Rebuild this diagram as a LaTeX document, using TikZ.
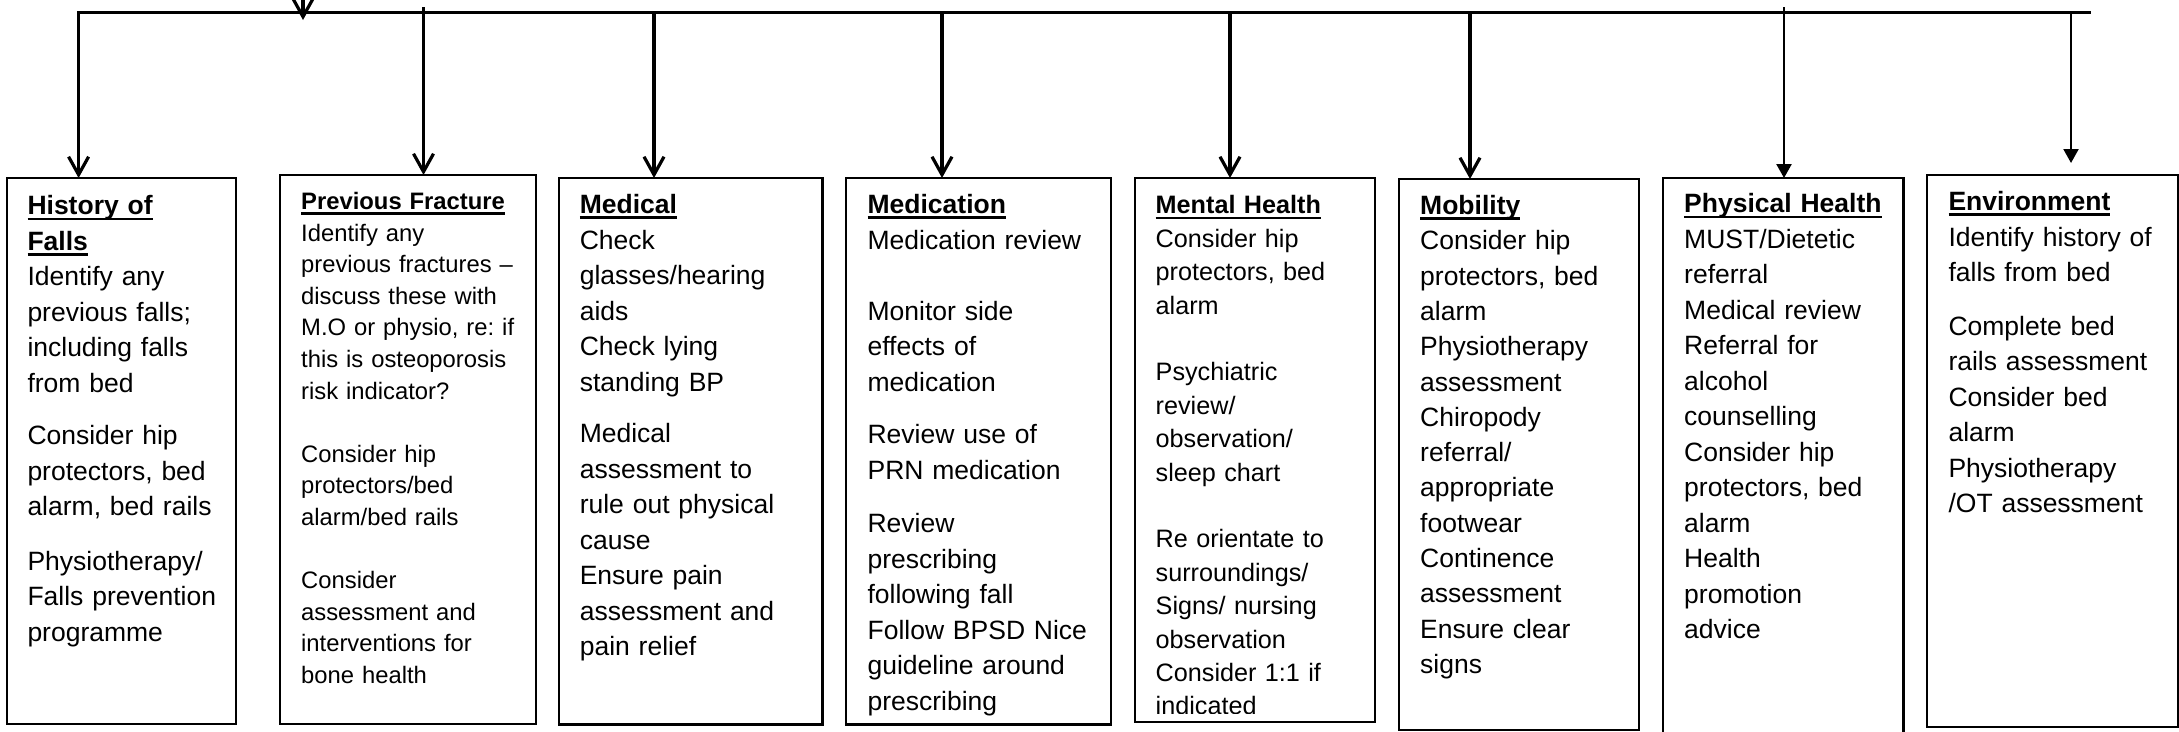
\documentclass[tikz,border=0pt]{standalone}
\usepackage{fontspec}
\setmainfont{Liberation Sans}
\usetikzlibrary{arrows.meta}
\frenchspacing
\newcommand\hdul[1]{\leavevmode\setbox0\hbox{\bfseries #1}\rlap{\rule[-5.4pt]{\wd0}{2.7pt}}\box0}
\begin{document}
\begin{tikzpicture}[x=1pt,y=-1pt,
  box/.style={draw, line width=2.5pt, anchor=north west, inner sep=0pt, outer sep=0pt},
  tx/.style={anchor=north west, inner sep=0pt, text width=260pt, align=left},
  fA/.style={font=\fontsize{26.5pt}{35.5pt}\selectfont\frenchspacing},
  bar/.style={line width=2.8pt, line cap=rect},
  openarr/.style={line width=3.2pt, -{Straight Barb[length=18pt,width=20pt]}},
  fillarr/.style={line width=2.5pt, -{Triangle[length=14pt,width=15pt]}}]
\useasboundingbox (0,0) rectangle (2179,731);

% boxes
\node[box, minimum width=229pt, minimum height=546pt] (b1) at (7,178) {};
\node[box, minimum width=256pt, minimum height=549pt] (b2) at (280,175) {};
\node[box, minimum width=263.5pt, minimum height=546.5pt] (b3) at (559,178) {};
\node[box, minimum width=265pt, minimum height=546.5pt] (b4) at (846,178) {};
\node[box, minimum width=240pt, minimum height=544pt] (b5) at (1135,178) {};
\node[box, minimum width=240pt, minimum height=551pt] (b6) at (1399,179) {};
\node[box, minimum width=240.5pt, minimum height=570pt] (b7) at (1663,178) {};
\node[box, minimum width=251pt, minimum height=552pt] (b8) at (1927,175) {};

% texts
\node[tx, fA] (t1) at (27.3,189.9) {\strut\hdul{History of}\\
\hdul{Falls}\\
Identify any\\
previous falls;\\
including falls\\
from bed\\[17pt]
Consider hip\\
protectors, bed\\
alarm, bed rails\\[19pt]
Physiotherapy/\\
Falls prevention\\
programme};

\node[tx, font=\fontsize{23.8pt}{31.6pt}\selectfont\frenchspacing] (t2) at (301,187.1) {\strut\hdul{Previous Fracture}\\
Identify any\\
previous fractures –\\
discuss these with\\
M.O or physio, re: if\\
this is osteoporosis\\
risk indicator?\\[31.6pt]
Consider hip\\
protectors/bed\\
alarm/bed rails\\[31.6pt]
Consider\\
assessment and\\
interventions for\\
bone health};

\node[tx, fA] (t3) at (579.6,188.6) {\strut\hdul{Medical}\\
Check\\
glasses/hearing\\
aids\\
Check lying\\
standing BP\\[16pt]
Medical\\
assessment to\\
rule out physical\\
cause\\
Ensure pain\\
assessment and\\
pain relief};

\node[tx, fA] (t4) at (867.4,188.6) {\strut\hdul{Medication}\\
Medication review\\[35.5pt]
Monitor side\\
effects of\\
medication\\[17pt]
Review use of\\
PRN medication\\[18pt]
Review\\
prescribing\\
following fall\\
Follow BPSD Nice\\
guideline around\\
prescribing};

\begin{scope}
\clip (1135,170) rectangle (1375,713.5);
\node[tx, font=\fontsize{25.2pt}{33.4pt}\selectfont\frenchspacing] (t5) at (1155.5,190.3) {\strut\hdul{Mental Health}\\
Consider hip\\
protectors, bed\\
alarm\\[33.4pt]
Psychiatric\\
review/\\
observation/\\
sleep chart\\[33.4pt]
Re orientate to\\
surroundings/\\
Signs/ nursing\\
observation\\
Consider 1:1 if\\
indicated};
\end{scope}

\node[tx, font=\fontsize{26.5pt}{35.3pt}\selectfont\frenchspacing] (t6) at (1420,189.6) {\strut\hdul{Mobility}\\
Consider hip\\
protectors, bed\\
alarm\\
Physiotherapy\\
assessment\\
Chiropody\\
referral/\\
appropriate\\
footwear\\
Continence\\
assessment\\
Ensure clear\\
signs};

\node[tx, fA] (t7) at (1684,187.9) {\strut\hdul{Physical Health}\\
MUST/Dietetic\\
referral\\
Medical review\\
Referral for\\
alcohol\\
counselling\\
Consider hip\\
protectors, bed\\
alarm\\
Health\\
promotion\\
advice};

\node[tx, fA] (t8) at (1948.3,185.7) {\strut\hdul{Environment}\\
Identify history of\\
falls from bed\\[18pt]
Complete bed\\
rails assessment\\
Consider bed\\
alarm\\
Physiotherapy\\
/OT assessment};

% connectors
\coordinate (barL) at (78.6,12.5);
\coordinate (barR) at (2090,12.5);
\draw[bar] (barL) -- (barR);
\coordinate (src) at (303,-10);
\coordinate (srcE) at (303,20);
\draw[openarr] (src) -- (srcE);

\coordinate (v2) at (423.5,7);
\coordinate (v3) at (654,12.5);
\coordinate (v4) at (942,12.5);
\coordinate (v5) at (1230,12.5);
\coordinate (v6) at (1470,12.5);
\coordinate (v7) at (1784,7);
\coordinate (v8) at (2071,12.5);
\coordinate (e8) at (2071,163);

\draw[openarr] (barL) -- (barL |- b1.north);
\draw[openarr] (v2) -- (v2 |- b2.north);
\draw[openarr] (v3) -- (v3 |- b3.north);
\draw[openarr] (v4) -- (v4 |- b4.north);
\draw[openarr] (v5) -- (v5 |- b5.north);
\draw[openarr] (v6) -- (v6 |- b6.north);
\draw[fillarr] (v7) -- (v7 |- b7.north);
\draw[fillarr, line width=2.2pt] (v8) -- (e8);
\end{tikzpicture}
\end{document}
